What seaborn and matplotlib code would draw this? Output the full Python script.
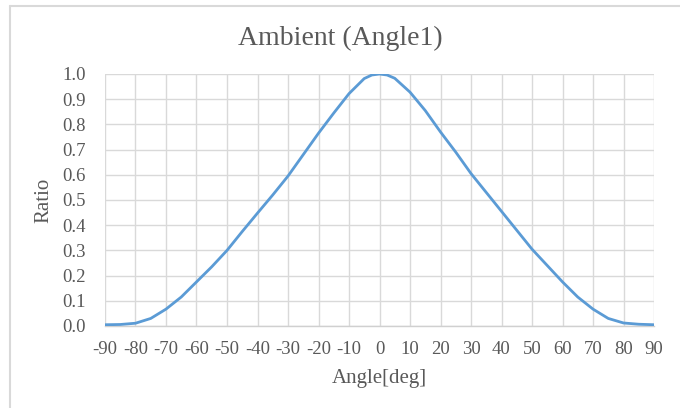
import matplotlib
matplotlib.use("Agg")
import matplotlib.pyplot as plt
import seaborn as sns
import pandas as pd
from matplotlib.lines import Line2D

angles = [-90, -85, -80, -75, -70, -65, -60, -55, -50, -45, -40, -35, -30, -25, -20, -15, -10, -5,
          -2.5, 0, 2.5, 5, 10, 15, 20, 25, 30, 35, 40, 45, 50, 55, 60, 65, 70, 75, 80, 85, 90]
ratio = [0.005, 0.006, 0.011, 0.03, 0.067, 0.115, 0.175, 0.235, 0.300, 0.375, 0.448, 0.52, 0.595, 0.68,
         0.765, 0.845, 0.922, 0.982, 0.996, 1.0, 0.996, 0.983, 0.928, 0.855, 0.77, 0.69, 0.605, 0.53,
         0.455, 0.38, 0.305, 0.24, 0.175, 0.115, 0.067, 0.03, 0.012, 0.007, 0.005]
xticks = list(range(-90, 91, 10))
yticks = [round(0.1 * i, 1) for i in range(11)]

df = pd.DataFrame({"Angle": angles, "Ratio": ratio})

sns.set_theme(style="white")
plt.rcParams['font.family'] = ['Liberation Serif', 'DejaVu Serif']
txt = "#595959"

fig = plt.figure(figsize=(6.8, 4.08), dpi=100)
ax = fig.add_axes([105 / 680, 1 - 326 / 408, (654 - 105) / 680, (326 - 74) / 408])

sns.lineplot(data=df, x="Angle", y="Ratio", ax=ax, color="#5B9BD5", linewidth=2.0, zorder=3)

ax.set_xlim(-90, 90)
ax.set_ylim(0, 1.0)
ax.set_xticks(xticks)
ax.set_xticklabels([str(v) for v in xticks])
ax.set_yticks(yticks)
ax.set_yticklabels([f"{v:.1f}" for v in yticks])
ax.grid(True, color="#D9D9D9", linewidth=1.0)
for s in ["top", "right", "left"]:
    ax.spines[s].set_visible(False)
ax.spines["bottom"].set_color("#D0D0D0")
ax.spines["bottom"].set_linewidth(1.0)
ax.tick_params(axis="both", length=0, labelsize=13.5, colors=txt)
ax.tick_params(axis="y", pad=14)
ax.tick_params(axis="x", pad=11)
ax.set_xlabel("Angle[deg]", fontsize=15, color=txt)
ax.set_ylabel("Ratio", fontsize=15, color=txt)
ax.xaxis.set_label_coords(0.5, (326 - 369) / 252)
ax.yaxis.set_label_coords((53 - 105) / 549, 0.5)
fig.text(0.5, 1 - 38 / 408, "Ambient (Angle1)", ha="center", va="center", fontsize=20, color=txt)

# outer chart border (top and left)
fig.add_artist(Line2D([9.5 / 680, 1.0], [1 - 5.5 / 408, 1 - 5.5 / 408], transform=fig.transFigure,
                      color="#D9D9D9", linewidth=1.5))
fig.add_artist(Line2D([9.5 / 680, 9.5 / 680], [0, 1 - 5.5 / 408], transform=fig.transFigure,
                      color="#D9D9D9", linewidth=1.5))

fig.savefig("out.png", dpi=100)
